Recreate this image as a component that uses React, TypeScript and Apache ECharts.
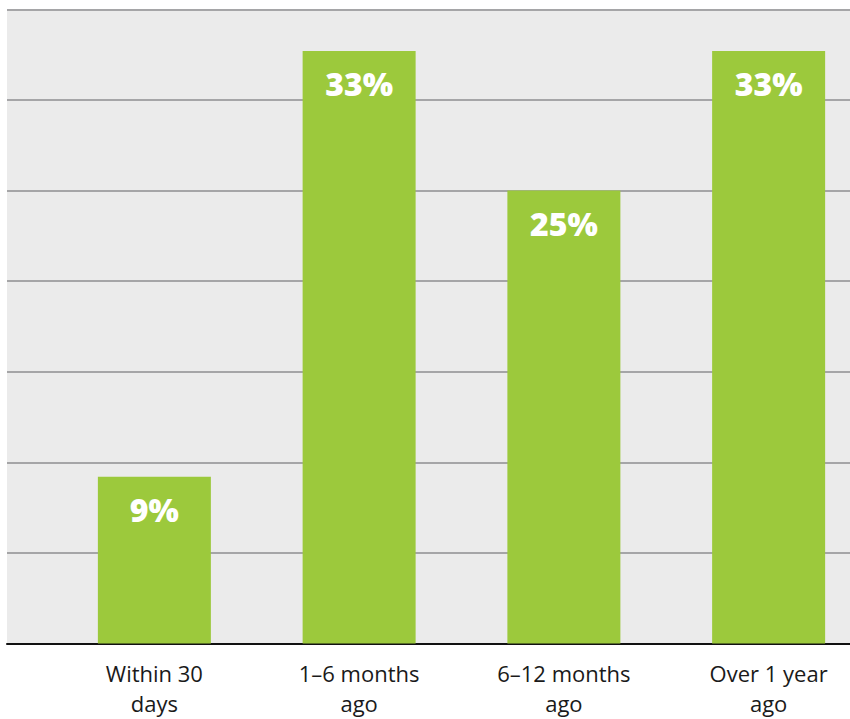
import React, { useEffect, useRef } from "react";
import * as echarts from "echarts";

const categories = ["Within 30\ndays", "1–6 months\nago", "6–12 months\nago", "Over 1 year\nago"];
const shares = [9.2, 32.7, 25.0, 32.7];
const yMin = 0;
const yMax = 35;
const yStep = 5;

export default function App() {
  const ref = useRef<HTMLDivElement>(null);
  useEffect(() => {
    if (!ref.current) return;
    const chart = echarts.init(ref.current, undefined, { renderer: "svg" });
    chart.setOption({
      animation: false,
      grid: [
        { left: 7, right: 0, top: 9.3, bottom: 75.5, show: true, backgroundColor: "#ebebeb", borderWidth: 0 },
        { left: 52, width: 819, top: 9.3, bottom: 75.5 },
      ],
      xAxis: [
        {
          type: "value",
          gridIndex: 0,
          min: 0,
          max: 1,
          axisLine: { show: true, onZero: false, lineStyle: { color: "#111", width: 2 } },
          axisTick: { show: false },
          axisLabel: { show: false },
          splitLine: { show: false },
        },
        {
          type: "category",
          gridIndex: 1,
          data: categories,
          axisLine: { show: false },
          axisTick: { show: false },
          axisLabel: {
            margin: 14,
            color: "#1a1a1a",
            fontFamily: "Open Sans",
            fontSize: 22,
            lineHeight: 30,
          },
        },
      ],
      yAxis: [
        {
          type: "value",
          gridIndex: 0,
          min: yMin,
          max: yMax,
          interval: yStep,
          axisLine: { show: false },
          axisTick: { show: false },
          axisLabel: { show: false },
          splitLine: { show: true, lineStyle: { color: "#a5a5a7", width: 2 } },
        },
        {
          type: "value",
          gridIndex: 1,
          min: yMin,
          max: yMax,
          interval: yStep,
          show: false,
          splitLine: { show: false },
        },
      ],
      series: [
        {
          type: "bar",
          xAxisIndex: 1,
          yAxisIndex: 1,
          data: shares,
          barWidth: 113,
          itemStyle: { color: "#9cc93c" },
          label: {
            show: true,
            position: ["50%", 33],
            align: "center",
            verticalAlign: "middle",
            color: "#ffffff",
            fontFamily: "Open Sans",
            fontWeight: 800,
            fontSize: 32,
            formatter: (p: any) => `${Math.round(p.value)}%`,
          },
        },
      ],
    });
    return () => chart.dispose();
  }, []);
  return (
    <div style={{ position: "absolute", left: 0, top: 0, width: 850, height: 719, overflow: "hidden", background: "#fff" }}>
      <div ref={ref} style={{ width: 880, height: 719 }} />
    </div>
  );
}
